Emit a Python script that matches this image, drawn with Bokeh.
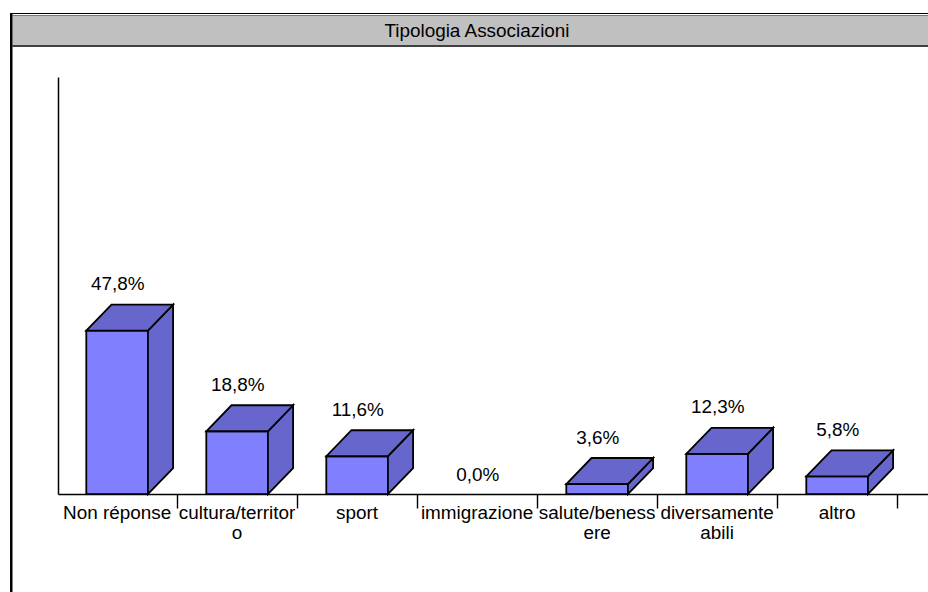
from bokeh.plotting import figure
from bokeh.embed import file_html
from bokeh.resources import INLINE
from bokeh.models import LinearAxis, FixedTicker, BoxAnnotation, Label
from bokeh.core.properties import value

title_text = "Tipologia Associazioni"
categories = ["Non réponse", "cultura/territor\no", "sport", "immigrazione",
              "salute/beness\nere", "diversamente\nabili", "altro"]
percent = [47.8, 18.8, 11.6, 0.0, 3.6, 12.3, 5.8]

W, H = 928, 592
PX_X, PX_Y = 120.0, 3.47
X0, Y0 = 116.6, 496.0   # canvas pixel of category 0 / value 0
BASE = 2.4 / PX_Y       # the drawn floor sits slightly above the value scale's zero
FONT = "Liberation Sans"
FS = "18.9px"
LW = 1.8

p = figure(width=W, height=H, output_backend="svg", toolbar_location=None,
           x_range=(-X0 / PX_X, (W - X0) / PX_X),
           y_range=((Y0 - H) / PX_Y, Y0 / PX_Y),
           min_border=0, min_border_left=0, min_border_right=0, min_border_top=0, min_border_bottom=0,
           x_axis_location=None, y_axis_location=None, outline_line_color=None)
p.grid.visible = False

half = 30.8 / PX_X
dx, dy = 25.2 / PX_X, 26 / PX_Y

front_x, front_y, top_x, top_y, side_x, side_y = [], [], [], [], [], []
lx, ly, lt = [], [], []
for i, v in enumerate(percent):
    lx.append(i + 0.7 / PX_X)
    lt.append(f"{v:.1f}%".replace(".", ","))
    if v == 0:
        ly.append(BASE + 20 / PX_Y)
        continue
    l, r = i - half, i + half
    front_x.append([l, r, r, l]); front_y.append([BASE, BASE, v, v])
    top_x.append([l, r, r + dx, l + dx]); top_y.append([v, v, v + dy, v + dy])
    side_x.append([r, r + dx, r + dx, r]); side_y.append([BASE, BASE + dy, v + dy, v])
    ly.append(v + dy + 21 / PX_Y)

style = dict(line_color="black", line_width=LW, line_join="miter")
p.patches(front_x, front_y, fill_color="#8080FF", **style)
p.patches(side_x, side_y, fill_color="#6666CC", **style)
p.patches(top_x, top_y, fill_color="#6666CC", **style)

p.text(lx, ly, text=lt, text_font=value(FONT), text_font_size=FS, text_color="black",
       text_align="center", text_baseline="middle")

yaxis_x = (58.3 - X0) / PX_X
xaxis = LinearAxis(fixed_location=BASE, bounds=(yaxis_x, (W - X0) / PX_X))
xaxis.ticker = FixedTicker(ticks=list(range(len(categories))),
                           minor_ticks=[i + 0.5 for i in range(len(categories))])
xaxis.major_label_overrides = {i: c for i, c in enumerate(categories)}
xaxis.major_tick_line_color = None
xaxis.major_tick_out = 0
xaxis.major_tick_in = 0
xaxis.minor_tick_out = 14
xaxis.minor_tick_in = 0
xaxis.minor_tick_line_color = "black"
xaxis.minor_tick_line_width = 1.4
xaxis.axis_line_color = "black"
xaxis.axis_line_width = 1.5
xaxis.major_label_standoff = -6
xaxis.major_label_text_font = FONT
xaxis.major_label_text_font_size = FS
xaxis.major_label_text_color = "black"
xaxis.major_label_text_line_height = 0.97
p.add_layout(xaxis, "below")

yaxis = LinearAxis(fixed_location=yaxis_x, bounds=(BASE, (Y0 - 77) / PX_Y))
yaxis.ticker = FixedTicker(ticks=[])
yaxis.axis_line_color = "black"
yaxis.axis_line_width = 1.5
p.add_layout(yaxis, "left")


def canvas_box(left, right, top, bottom, color):
    b = BoxAnnotation(left=left, right=right, top=top, bottom=bottom,
                      left_units="canvas", right_units="canvas",
                      top_units="canvas", bottom_units="canvas",
                      fill_color=color, fill_alpha=1, line_color=None)
    p.add_layout(b)


canvas_box(12, W, 15, 45, "#C0C0C0")      # title band
canvas_box(12, W, 14.5, 15.5, "#777777")  # band upper edge
canvas_box(12, W, 44.5, 46.5, "#404040")  # band lower edge
canvas_box(9.5, W, 12.5, 13.5, "black")   # outer frame top
canvas_box(9.5, 12, 12.5, H, "black")     # outer frame left

p.add_layout(Label(x=477, y=30, x_units="canvas", y_units="canvas", text=title_text,
                   text_font=FONT, text_font_size=FS, text_align="center", text_baseline="middle",
                   text_color="black"))

open("out.html", "w").write(file_html(p, INLINE))
